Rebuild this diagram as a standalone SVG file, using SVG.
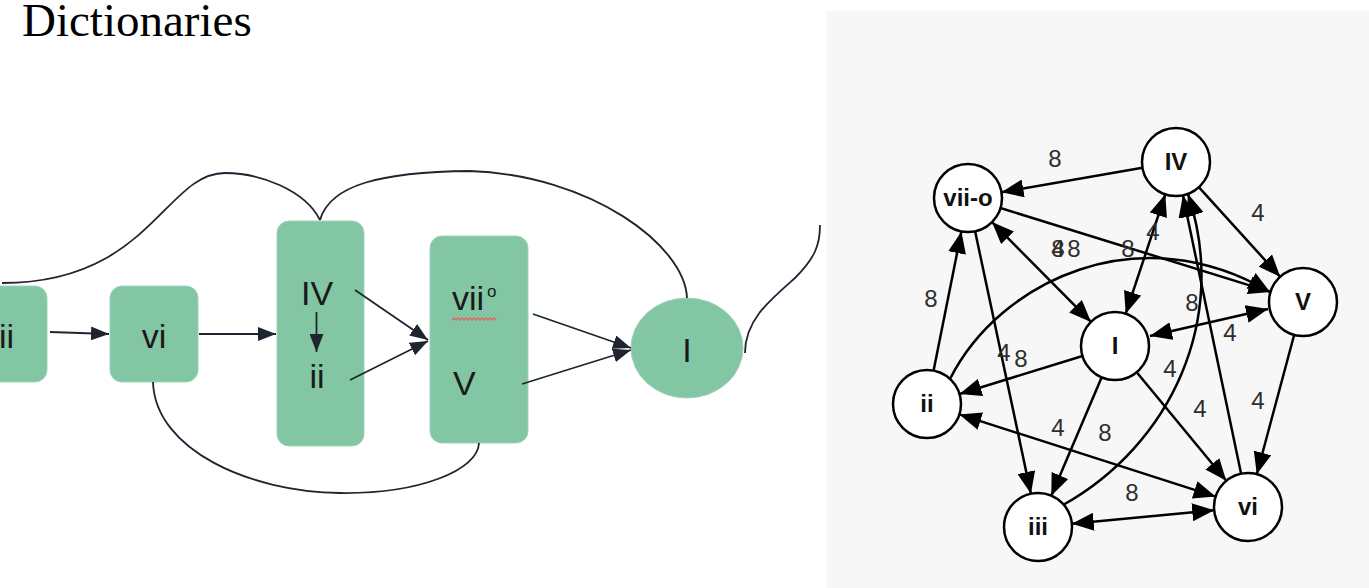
<svg xmlns="http://www.w3.org/2000/svg" width="1369" height="588" viewBox="0 0 1369 588">
  <defs>
    <style>
      .title { font-family: "Liberation Serif", "Times New Roman", serif; font-size: 47px; fill: #000; }
      .box { fill: #83c6a4; stroke: #9fd3b9; stroke-width: 1; }
      .flow-label { font-family: "Liberation Sans", Arial, sans-serif; font-size: 34px; fill: #1a1a1a; }
      .flow-line { fill: none; stroke: #1f2430; stroke-width: 1.8; }
      .flow-arrow { fill: none; stroke: #1f2430; stroke-width: 1.8; marker-end: url(#ah); }
      .panel { fill: #f7f7f7; }
      .chord { fill: #fff; stroke: #000; stroke-width: 2.5; }
      .chord-label { font-family: "Liberation Sans", Arial, sans-serif; font-size: 24px; font-weight: bold; fill: #111; text-anchor: middle; }
      .edge { fill: none; stroke: #000; stroke-width: 2.5; }
      .weight { font-family: "Liberation Sans", Arial, sans-serif; font-size: 24px; fill: #2e2e2e; text-anchor: middle; }
    </style>
    <marker id="ah" viewBox="0 0 18 14" markerWidth="18" markerHeight="14" refX="18" refY="7" orient="auto" markerUnits="userSpaceOnUse">
      <path d="M0 0 L18 7 L0 14 z" fill="#1f2430"/>
    </marker>
    <marker id="gh" viewBox="0 0 22 18" markerWidth="22" markerHeight="18" refX="22" refY="9" orient="auto-start-reverse" markerUnits="userSpaceOnUse">
      <path d="M0 0 L22 9 L0 18 z" fill="#000"/>
    </marker>
  </defs>

  <rect width="1369" height="588" fill="#fff"/>
  <text class="title" x="22" y="36">Dictionaries</text>

  <!-- progression flow chart -->
  <g id="flow-iii">
    <rect class="box" x="-20" y="286" width="67" height="96" rx="12"/>
    <text class="flow-label" x="-1" y="348">ii</text>
  </g>
  <g id="flow-vi">
    <rect class="box" x="110" y="286" width="88" height="96" rx="12"/>
    <text class="flow-label" x="154" y="348" text-anchor="middle">vi</text>
  </g>
  <g id="flow-predominant">
    <rect class="box" x="277" y="221" width="87" height="225" rx="12"/>
    <text class="flow-label" x="317" y="305" text-anchor="middle">IV</text>
    <text class="flow-label" x="317" y="388" text-anchor="middle">ii</text>
  </g>
  <g id="flow-dominant">
    <rect class="box" x="430" y="236" width="98" height="207" rx="12"/>
    <text class="flow-label" x="452" y="310">vii</text>
    <text class="flow-label" x="487" y="297" style="font-size:17px">o</text>
    <polyline points="452,320 454,318 456,320 458,318 460,320 462,318 464,320 466,318 468,320 470,318 472,320 474,318 476,320 478,318 480,320 482,318 484,320 486,318 488,320 490,318 492,320 494,318 496,320" fill="none" stroke="#e06464" stroke-width="1.3"/>
    <text class="flow-label" x="453" y="395">V</text>
  </g>
  <g id="flow-tonic">
    <ellipse class="box" cx="687" cy="348" rx="56" ry="50"/>
    <text class="flow-label" x="687" y="362" text-anchor="middle">I</text>
  </g>

  <g id="flow-connectors">
    <path class="flow-arrow" d="M50 332 L109 334"/>
    <path class="flow-arrow" d="M199 334 L276 334"/>
    <path class="flow-arrow" d="M316.5 312 L316.5 352"/>
    <path class="flow-arrow" d="M355 290 L428 340"/>
    <path class="flow-arrow" d="M350 380 L428 341"/>
    <path class="flow-arrow" d="M533 314 L631 348"/>
    <path class="flow-arrow" d="M522 384 L631 350"/>
    <path class="flow-line" d="M2 283 C150 283, 165 173, 225 173 C260 173, 305 190, 320 220"/>
    <path class="flow-line" d="M320 220 C330 185, 380 172, 470 171 C590 175, 685 245, 687 298"/>
    <path class="flow-line" d="M153 382 C155 450, 250 492, 340 493 C420 494, 478 470, 479 443"/>
    <path class="flow-line" d="M745 353 C745 320, 770 300, 795 278 C815 258, 820 245, 820 225"/>
  </g>

  <!-- weighted chord transition graph -->
  <rect class="panel" x="826" y="11" width="543" height="577"/>

  <g id="graph-connectors">
    <path class="edge" d="M1142.5 167.8 L1001.5 192.2" marker-end="url(#gh)"/>
    <path class="edge" d="M1198.8 187.2 L1280.2 276.8" marker-end="url(#gh)"/>
    <path class="edge" d="M1294.2 334.8 L1256.8 474.2" marker-end="url(#gh)"/>
    <path class="edge" d="M1000.5 208 L1270.5 291.9" marker-end="url(#gh)"/>
    <path class="edge" d="M992 222.1 L1091 321.9" marker-start="url(#gh)" marker-end="url(#gh)"/>
    <path class="edge" d="M1165.3 194.3 L1125.7 313.7" marker-start="url(#gh)" marker-end="url(#gh)"/>
    <path class="edge" d="M933.6 370.6 L961.4 231.4" marker-end="url(#gh)"/>
    <path class="edge" d="M975.1 231.3 L1030.9 493.7" marker-end="url(#gh)"/>
    <path class="edge" d="M950 379 C1000 280, 1140 215, 1270 292" marker-end="url(#gh)"/>
    <path class="edge" d="M1150 336 L1268 309" marker-start="url(#gh)" marker-end="url(#gh)"/>
    <path class="edge" d="M1082.5 356 L959.5 394" marker-end="url(#gh)"/>
    <path class="edge" d="M1101.7 377.3 L1051.3 495.7" marker-end="url(#gh)"/>
    <path class="edge" d="M1136.7 372.2 L1226.3 480.8" marker-end="url(#gh)"/>
    <path class="edge" d="M1071.8 523.8 L1214.2 510.2" marker-start="url(#gh)" marker-end="url(#gh)"/>
    <path class="edge" d="M1215.6 496.6 L959.4 414.4" marker-start="url(#gh)" marker-end="url(#gh)"/>
    <path class="edge" d="M1063 505 C1170 445, 1230 320, 1188 194" marker-end="url(#gh)"/>
    <path class="edge" d="M1241.1 473.7 L1182.9 195.3" marker-end="url(#gh)"/>
  </g>

  <g id="graph-weights">
    <text class="weight" x="1055" y="167">8</text>
    <text class="weight" x="1258" y="221">4</text>
    <text class="weight" x="1258" y="409">4</text>
    <text class="weight" x="1128" y="257">8</text>
    <text class="weight" x="1058" y="257">4</text>
    <text class="weight" x="1058" y="257">8</text>
    <text class="weight" x="1074" y="257">8</text>
    <text class="weight" x="1153" y="240">4</text>
    <text class="weight" x="931" y="307">8</text>
    <text class="weight" x="1004" y="361">4</text>
    <text class="weight" x="1021" y="367">8</text>
    <text class="weight" x="1230" y="341">4</text>
    <text class="weight" x="1192" y="311">8</text>
    <text class="weight" x="1170" y="377">4</text>
    <text class="weight" x="1200" y="417">4</text>
    <text class="weight" x="1058" y="436">4</text>
    <text class="weight" x="1105" y="441">8</text>
    <text class="weight" x="1132" y="501">8</text>
  </g>

  <g id="node-vii-o">
    <circle class="chord" cx="968" cy="198" r="34"/>
    <text class="chord-label" x="968" y="206">vii-o</text>
  </g>
  <g id="node-IV">
    <circle class="chord" cx="1176" cy="162" r="34"/>
    <text class="chord-label" x="1176" y="170">IV</text>
  </g>
  <g id="node-V">
    <circle class="chord" cx="1303" cy="302" r="34"/>
    <text class="chord-label" x="1303" y="310">V</text>
  </g>
  <g id="node-I">
    <circle class="chord" cx="1115" cy="346" r="34"/>
    <text class="chord-label" x="1115" y="354">I</text>
  </g>
  <g id="node-ii">
    <circle class="chord" cx="927" cy="404" r="34"/>
    <text class="chord-label" x="927" y="412">ii</text>
  </g>
  <g id="node-iii">
    <circle class="chord" cx="1038" cy="527" r="34"/>
    <text class="chord-label" x="1038" y="535">iii</text>
  </g>
  <g id="node-vi">
    <circle class="chord" cx="1248" cy="507" r="34"/>
    <text class="chord-label" x="1248" y="515">vi</text>
  </g>
</svg>
